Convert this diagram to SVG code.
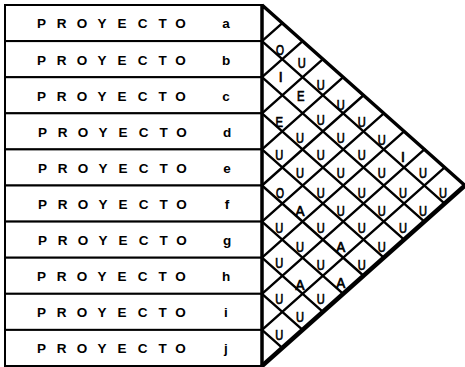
<svg xmlns="http://www.w3.org/2000/svg" width="465" height="367" viewBox="0 0 465 367">
<style>
.box{fill:#fff;stroke:#000;stroke-width:2}
.lbl{font-family:"Liberation Sans",Arial,sans-serif;font-weight:bold;font-size:13.5px;fill:#000;text-anchor:middle}
.grid{stroke:#000;stroke-width:2.4;fill:none;stroke-linecap:round}
.hyp{stroke:#000;stroke-width:3.5;fill:none;stroke-linejoin:miter}
.hyp2{stroke:#000;stroke-width:4.5;fill:none}
.cell{font-family:"Liberation Sans",Arial,sans-serif;font-size:14px;fill:#000;stroke:#000;stroke-width:0.7;text-anchor:middle}
</style>
<rect width="465" height="367" fill="#fff"/>
<g id="rows">
<g id="row-a"><rect class="box" x="5" y="5" width="257" height="36.1"/><text class="lbl" y="28.3"><tspan x="41.5 61.5 82 102 122 142.5 162.5 182.5">PROYECTO</tspan> <tspan x="226">a</tspan></text></g>
<g id="row-b"><rect class="box" x="5" y="41.1" width="257" height="36.1"/><text class="lbl" y="64.6"><tspan x="41.5 61.5 82 102 122 142.5 162.5 182.5">PROYECTO</tspan> <tspan x="226">b</tspan></text></g>
<g id="row-c"><rect class="box" x="5" y="77.2" width="257" height="36.1"/><text class="lbl" y="100.6"><tspan x="41.5 61.5 82 102 122 142.5 162.5 182.5">PROYECTO</tspan> <tspan x="226">c</tspan></text></g>
<g id="row-d"><rect class="box" x="5" y="113.3" width="257" height="36.1"/><text class="lbl" y="136.7"><tspan x="42.5 62.5 83 103 123 143.5 163.5 183.5">PROYECTO</tspan> <tspan x="227">d</tspan></text></g>
<g id="row-e"><rect class="box" x="5" y="149.4" width="257" height="36.1"/><text class="lbl" y="172.8"><tspan x="42.5 62.5 83 103 123 143.5 163.5 183.5">PROYECTO</tspan> <tspan x="227">e</tspan></text></g>
<g id="row-f"><rect class="box" x="5" y="185.5" width="257" height="36.1"/><text class="lbl" y="208.9"><tspan x="42.5 62.5 83 103 123 143.5 163.5 183.5">PROYECTO</tspan> <tspan x="227">f</tspan></text></g>
<g id="row-g"><rect class="box" x="5" y="221.6" width="257" height="36.1"/><text class="lbl" y="245"><tspan x="42.5 62.5 83 103 123 143.5 163.5 183.5">PROYECTO</tspan> <tspan x="227">g</tspan></text></g>
<g id="row-h"><rect class="box" x="5" y="257.7" width="257" height="36.1"/><text class="lbl" y="281.1"><tspan x="41.5 61.5 82 102 122 142.5 162.5 182.5">PROYECTO</tspan> <tspan x="226">h</tspan></text></g>
<g id="row-i"><rect class="box" x="5" y="293.8" width="257" height="36.1"/><text class="lbl" y="317.2"><tspan x="41.5 61.5 82 102 122 142.5 162.5 182.5">PROYECTO</tspan> <tspan x="226">i</tspan></text></g>
<g id="row-j"><rect class="box" x="5" y="329.9" width="257" height="36.1"/><text class="lbl" y="353.3"><tspan x="41.5 61.5 82 102 122 142.5 162.5 182.5">PROYECTO</tspan> <tspan x="226">j</tspan></text></g>
</g>
<g id="matrix">
<g id="connectors">
<path class="grid" d="M262 41.1L282.3 23.05M262 77.2L302.6 41.1M262 113.3L322.9 59.15M262 149.4L343.2 77.2M262 185.5L363.5 95.25M262 221.6L383.8 113.3M262 257.7L404.1 131.35M262 293.8L424.4 149.4M262 329.9L444.7 167.45"/>
<path class="grid" d="M262 41.1L444.7 203.55M262 77.2L424.4 221.6M262 113.3L404.1 239.65M262 149.4L383.8 257.7M262 185.5L363.5 275.75M262 221.6L343.2 293.8M262 257.7L322.9 311.85M262 293.8L302.6 329.9M262 329.9L282.3 347.95"/>
<path class="hyp" d="M262 4.5L262 366.5M262 5L465 185.5"/>
<path class="hyp2" d="M465 185.5L262 366"/>
</g>
<g id="cells">
<text class="cell" x="280" y="55" textLength="8" lengthAdjust="spacingAndGlyphs">O</text>
<text class="cell" x="301.7" y="68" textLength="8" lengthAdjust="spacingAndGlyphs">U</text>
<text class="cell" x="280.7" y="82">I</text>
<text class="cell" x="320.7" y="90" textLength="8" lengthAdjust="spacingAndGlyphs">U</text>
<text class="cell" x="300.7" y="100.7" textLength="7.5" lengthAdjust="spacingAndGlyphs">E</text>
<text class="cell" x="340.7" y="110" textLength="8" lengthAdjust="spacingAndGlyphs">U</text>
<text class="cell" x="279.3" y="126.7" textLength="7.5" lengthAdjust="spacingAndGlyphs">E</text>
<text class="cell" x="320.7" y="125" textLength="8" lengthAdjust="spacingAndGlyphs">U</text>
<text class="cell" x="361.7" y="126.7" textLength="8" lengthAdjust="spacingAndGlyphs">U</text>
<text class="cell" x="300" y="143" textLength="8" lengthAdjust="spacingAndGlyphs">U</text>
<text class="cell" x="340.7" y="143" textLength="8" lengthAdjust="spacingAndGlyphs">U</text>
<text class="cell" x="381.7" y="145" textLength="8" lengthAdjust="spacingAndGlyphs">U</text>
<text class="cell" x="279.3" y="160" textLength="8" lengthAdjust="spacingAndGlyphs">U</text>
<text class="cell" x="320.7" y="160" textLength="8" lengthAdjust="spacingAndGlyphs">U</text>
<text class="cell" x="361.7" y="160" textLength="8" lengthAdjust="spacingAndGlyphs">U</text>
<text class="cell" x="403" y="161.7">I</text>
<text class="cell" x="300" y="178" textLength="8" lengthAdjust="spacingAndGlyphs">U</text>
<text class="cell" x="340.7" y="178" textLength="8" lengthAdjust="spacingAndGlyphs">U</text>
<text class="cell" x="381.7" y="178" textLength="8" lengthAdjust="spacingAndGlyphs">U</text>
<text class="cell" x="423" y="178" textLength="8" lengthAdjust="spacingAndGlyphs">U</text>
<text class="cell" x="280" y="197.7" textLength="8" lengthAdjust="spacingAndGlyphs">O</text>
<text class="cell" x="320.7" y="197.7" textLength="8" lengthAdjust="spacingAndGlyphs">U</text>
<text class="cell" x="361.7" y="197.7" textLength="8" lengthAdjust="spacingAndGlyphs">U</text>
<text class="cell" x="403" y="197.7" textLength="8" lengthAdjust="spacingAndGlyphs">U</text>
<text class="cell" x="443" y="197.7" textLength="8" lengthAdjust="spacingAndGlyphs">U</text>
<text class="cell" x="300" y="215.7" textLength="9" lengthAdjust="spacingAndGlyphs">A</text>
<text class="cell" x="340.7" y="215.7" textLength="8" lengthAdjust="spacingAndGlyphs">U</text>
<text class="cell" x="381.7" y="215.7" textLength="8" lengthAdjust="spacingAndGlyphs">U</text>
<text class="cell" x="423" y="215.7" textLength="8" lengthAdjust="spacingAndGlyphs">U</text>
<text class="cell" x="279.3" y="233" textLength="8" lengthAdjust="spacingAndGlyphs">U</text>
<text class="cell" x="320.7" y="233" textLength="8" lengthAdjust="spacingAndGlyphs">U</text>
<text class="cell" x="361.7" y="233" textLength="8" lengthAdjust="spacingAndGlyphs">U</text>
<text class="cell" x="403" y="233" textLength="8" lengthAdjust="spacingAndGlyphs">U</text>
<text class="cell" x="300" y="251.7" textLength="8" lengthAdjust="spacingAndGlyphs">U</text>
<text class="cell" x="340.7" y="251.7" textLength="9" lengthAdjust="spacingAndGlyphs">A</text>
<text class="cell" x="381.7" y="251.7" textLength="8" lengthAdjust="spacingAndGlyphs">U</text>
<text class="cell" x="279.3" y="268" textLength="8" lengthAdjust="spacingAndGlyphs">U</text>
<text class="cell" x="320.7" y="270" textLength="8" lengthAdjust="spacingAndGlyphs">U</text>
<text class="cell" x="361.7" y="270" textLength="8" lengthAdjust="spacingAndGlyphs">U</text>
<text class="cell" x="300" y="290" textLength="9" lengthAdjust="spacingAndGlyphs">A</text>
<text class="cell" x="340.7" y="288" textLength="9" lengthAdjust="spacingAndGlyphs">A</text>
<text class="cell" x="279.3" y="304" textLength="8" lengthAdjust="spacingAndGlyphs">U</text>
<text class="cell" x="320.7" y="304" textLength="8" lengthAdjust="spacingAndGlyphs">U</text>
<text class="cell" x="300" y="321.7" textLength="8" lengthAdjust="spacingAndGlyphs">U</text>
<text class="cell" x="279.3" y="340" textLength="8" lengthAdjust="spacingAndGlyphs">U</text>
</g>
</g>
</svg>
